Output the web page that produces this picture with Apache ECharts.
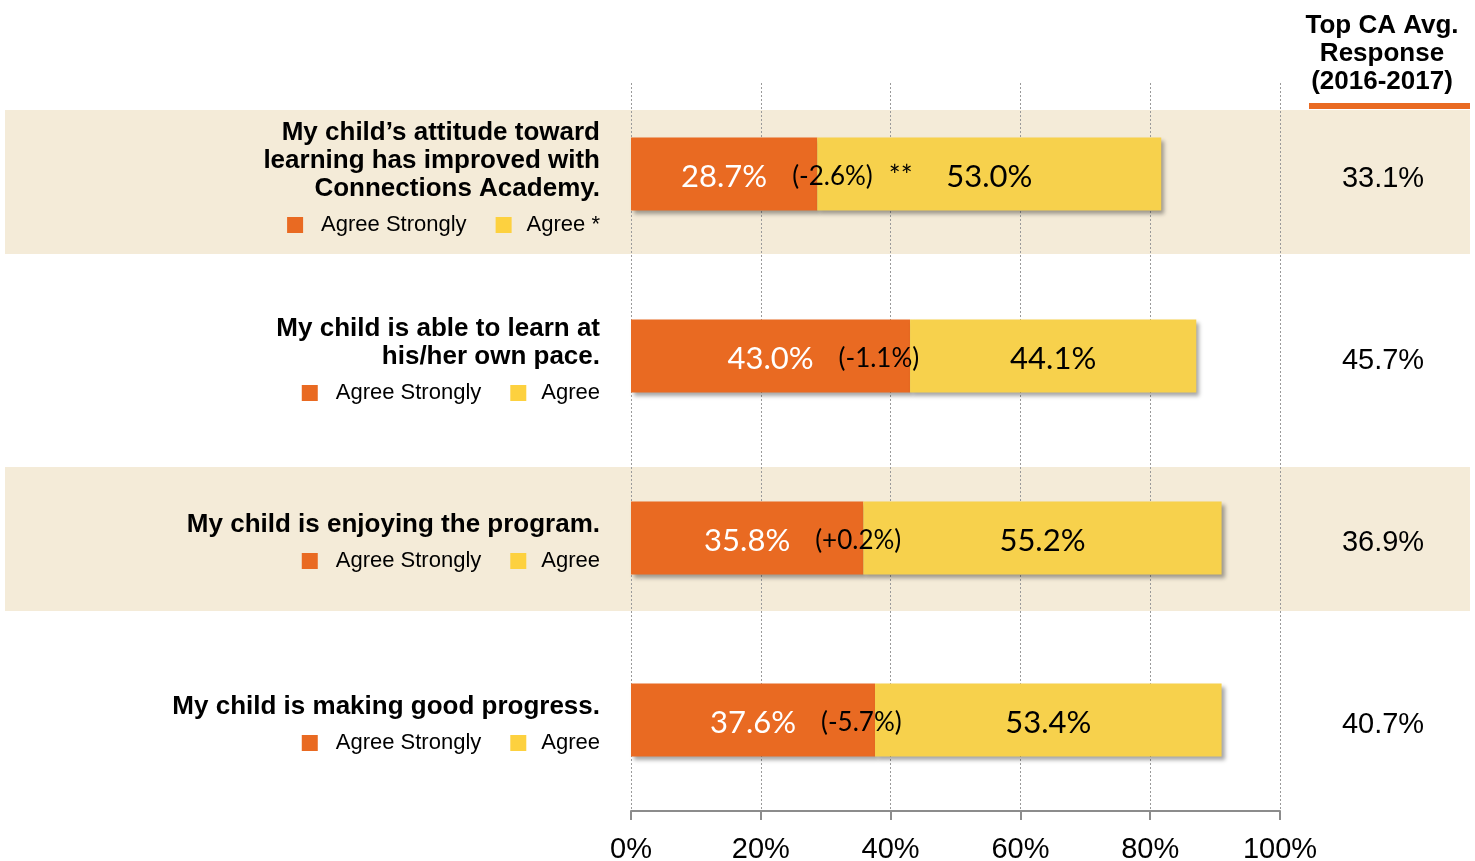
<!DOCTYPE html>
<html>
<head>
<meta charset="utf-8">
<title>Parent Satisfaction</title>
<script src="https://cdn.jsdelivr.net/npm/echarts@6/dist/echarts.min.js"></script>
<style>
  html, body { margin: 0; padding: 0; background: #fff; }
  #chart { width: 1475px; height: 861px; }
</style>
</head>
<body>
<div id="chart"></div>
<script>
// Survey statements (one row each)
const categories = [
  'My child\u2019s attitude toward\nlearning has improved with\nConnections Academy.',
  'My child is able to learn at\nhis/her own pace.',
  'My child is enjoying the program.',
  'My child is making good progress.'
];
// Share of parents answering each option (%)
const agreeStrongly = [28.7, 43.0, 35.8, 37.6];
const agree = [53.0, 44.1, 55.2, 53.4];
// Change vs. prior year and significance markers
const changeLabels = ['(-2.6%)', '(-1.1%)', '(+0.2%)', '(-5.7%)'];
const significance = ['**', '', '', ''];
const agreeNotes = [' *', '', '', ''];
// Top CA average response (2016-2017)
const topCaAvg = [33.1, 45.7, 36.9, 40.7];
const headerText = 'Top CA Avg.\nResponse\n(2016-2017)';
const seriesNames = ['Agree Strongly', 'Agree'];

const ORANGE = '#E96A22';
const YELLOW = '#F7D14C';
const LEGEND_YELLOW = '#FDD13F';
const BAND = '#F4EBD8';
const SANS = '"Liberation Sans", Arial, sans-serif';
const LABEL_FONT = 'Lato, "Open Sans", sans-serif';

const chart = echarts.init(document.getElementById('chart'));

const barShadow = {
  shadowColor: 'rgba(0,0,0,0.35)',
  shadowBlur: 4,
  shadowOffsetX: 3,
  shadowOffsetY: 3
};

// Statement text followed by the per-row legend line
function leftLabel(value, idx) {
  const lines = value.split('\n').map(l => '{t|' + l + '}');
  lines.push('{sqA|}{g1|}{l|' + seriesNames[0] + '}{g2|}{sqB|}{g3|}{l|' + seriesNames[1] + agreeNotes[idx] + '}');
  return lines.join('\n');
}

chart.setOption({
  animation: false,
  backgroundColor: '#ffffff',
  grid: { left: 631, right: 195, top: 83, bottom: 50, outerBoundsMode: 'none', containLabel: false },
  graphic: [
    { type: 'rect', z: -10, shape: { x: 5, y: 110, width: 1465, height: 144 }, style: { fill: BAND } },
    { type: 'rect', z: -10, shape: { x: 5, y: 467, width: 1465, height: 144 }, style: { fill: BAND } },
    { type: 'rect', z: 5, shape: { x: 1309, y: 103, width: 161, height: 6 }, style: { fill: ORANGE } },
    {
      type: 'text', z: 5, x: 1382, y: 12,
      style: {
        text: headerText,
        font: 'bold 26px ' + SANS,
        fill: '#000',
        align: 'center',
        verticalAlign: 'top',
        lineHeight: 28
      }
    }
  ],
  xAxis: {
    type: 'value',
    min: 0,
    max: 100,
    interval: 20,
    axisLine: { show: true, lineStyle: { color: '#8c8c8c', width: 2 } },
    axisTick: { show: true, length: 9, lineStyle: { color: '#8c8c8c', width: 2 } },
    axisLabel: {
      formatter: '{value}%',
      color: '#000',
      fontSize: 29,
      fontFamily: SANS,
      margin: 24
    },
    splitLine: { show: true, lineStyle: { color: '#9a9a9a', type: [2, 2], width: 1 } }
  },
  yAxis: [
    {
      type: 'category',
      data: categories,
      inverse: true,
      axisLine: { show: false },
      axisTick: { show: false },
      axisLabel: {
        margin: 31,
        align: 'right',
        padding: [18, 0, 0, 0],
        formatter: leftLabel,
        rich: {
          t: { fontFamily: SANS, fontWeight: 'bold', fontSize: 26, color: '#000', lineHeight: 28, align: 'right' },
          l: { fontFamily: SANS, fontSize: 22, color: '#000', lineHeight: 44 },
          sqA: { width: 16, height: 16, backgroundColor: ORANGE },
          sqB: { width: 16, height: 16, backgroundColor: LEGEND_YELLOW },
          g1: { width: 18 },
          g2: { width: 29 },
          g3: { width: 15 }
        }
      }
    },
    {
      type: 'category',
      data: categories,
      inverse: true,
      position: 'right',
      axisLine: { show: false },
      axisTick: { show: false },
      axisLabel: {
        margin: 103,
        align: 'center',
        verticalAlign: 'top',
        lineHeight: 10,
        color: '#000',
        fontSize: 29,
        fontFamily: SANS,
        formatter: (v, i) => topCaAvg[i].toFixed(1) + '%'
      }
    }
  ],
  series: [
    {
      name: seriesNames[0],
      type: 'bar',
      stack: 'total',
      barWidth: 73,
      data: agreeStrongly,
      itemStyle: Object.assign({ color: ORANGE }, barShadow),
      label: {
        show: true,
        position: 'inside',
        align: 'left',
        offset: [-43, 3],
        formatter: p => {
          let s = '{v|' + p.value.toFixed(1) + '%}{c|' + changeLabels[p.dataIndex] + '}';
          if (significance[p.dataIndex]) s += '{s|' + significance[p.dataIndex] + '}';
          return s;
        },
        rich: {
          v: { fontFamily: LABEL_FONT, fontSize: 31, color: '#fff', width: 86, align: 'center' },
          c: { fontFamily: LABEL_FONT, fontSize: 26, color: '#000', padding: [0, 0, 0, 25] },
          s: { fontFamily: LABEL_FONT, fontSize: 28, color: '#000', padding: [0, 0, 0, 16] }
        }
      }
    },
    {
      name: seriesNames[1],
      type: 'bar',
      stack: 'total',
      barWidth: 73,
      data: agree,
      itemStyle: Object.assign({ color: YELLOW }, barShadow),
      label: {
        show: true,
        position: 'inside',
        offset: [0, 3],
        formatter: p => p.value.toFixed(1) + '%',
        fontFamily: LABEL_FONT,
        fontSize: 31,
        color: '#000'
      }
    }
  ]
});
</script>
</body>
</html>
